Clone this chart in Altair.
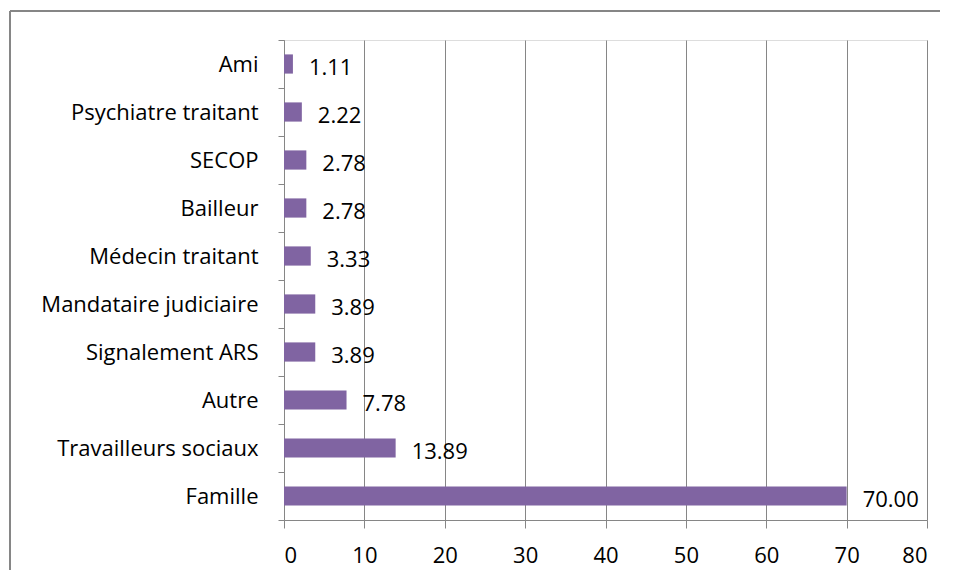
import altair as alt
import pandas as pd

categories = ["Ami", "Psychiatre traitant", "SECOP", "Bailleur", "Médecin traitant",
              "Mandataire judiciaire", "Signalement ARS", "Autre ", "Travailleurs sociaux", "Famille"]
values = [1.11, 2.22, 2.78, 2.78, 3.33, 3.89, 3.89, 7.78, 13.89, 70.00]
x_ticks = [0, 10, 20, 30, 40, 50, 60, 70, 80]

df = pd.DataFrame({"cat": categories, "val": values})

FONT = "Open Sans"
FS = 22
GRID = "#868686"
BAR = "#8064A2"

y_enc = alt.Y("cat:N", sort=categories, title=None,
              scale=alt.Scale(paddingInner=0, paddingOuter=0),
              axis=alt.Axis(labelFont=FONT, labelFontSize=FS, labelColor="#000000",
                            labelPadding=20, domainColor=GRID, tickColor=GRID,
                            tickSize=6, tickWidth=1, tickBand="extent", grid=False,
                            labelLimit=400))
x_enc = alt.X("val:Q", title=None,
              scale=alt.Scale(domain=[0, 80], nice=False, zero=True),
              axis=alt.Axis(values=x_ticks, labelFont=FONT, labelFontSize=FS,
                            labelColor="#000000", labelPadding=17, domainColor=GRID,
                            tickColor=GRID, tickSize=8, grid=True, gridColor=GRID,
                            gridOpacity=1, gridWidth=1))

bars = alt.Chart(df).mark_bar(color=BAR, height={"band": 0.4}).encode(x=x_enc, y=y_enc)
labels = alt.Chart(df).mark_text(align="left", baseline="middle", dx=16, dy=4,
                                 font=FONT, fontSize=FS, color="#000000").encode(
    x="val:Q", y=alt.Y("cat:N", sort=categories), text=alt.Text("val:Q", format=".2f"))

frame_data = alt.Data(values=[{"k": 1}])
top_line = alt.Chart(frame_data).mark_rule(color=GRID, strokeWidth=2).encode(
    x=alt.value(-274), x2=alt.value(900), y=alt.value(-29))
left_line = alt.Chart(frame_data).mark_rule(color=GRID, strokeWidth=2).encode(
    x=alt.value(-274), y=alt.value(-29), y2=alt.value(700))

chart = alt.layer(top_line, left_line, bars, labels).properties(
    width=643, height=480,
    autosize=alt.AutoSizeParams(type="none"),
    padding={"left": 276, "top": 32, "right": 13, "bottom": 50},
).configure_view(stroke=None).configure(background="white")

chart.save("out.html", embed_options={"renderer": "svg", "actions": False})
